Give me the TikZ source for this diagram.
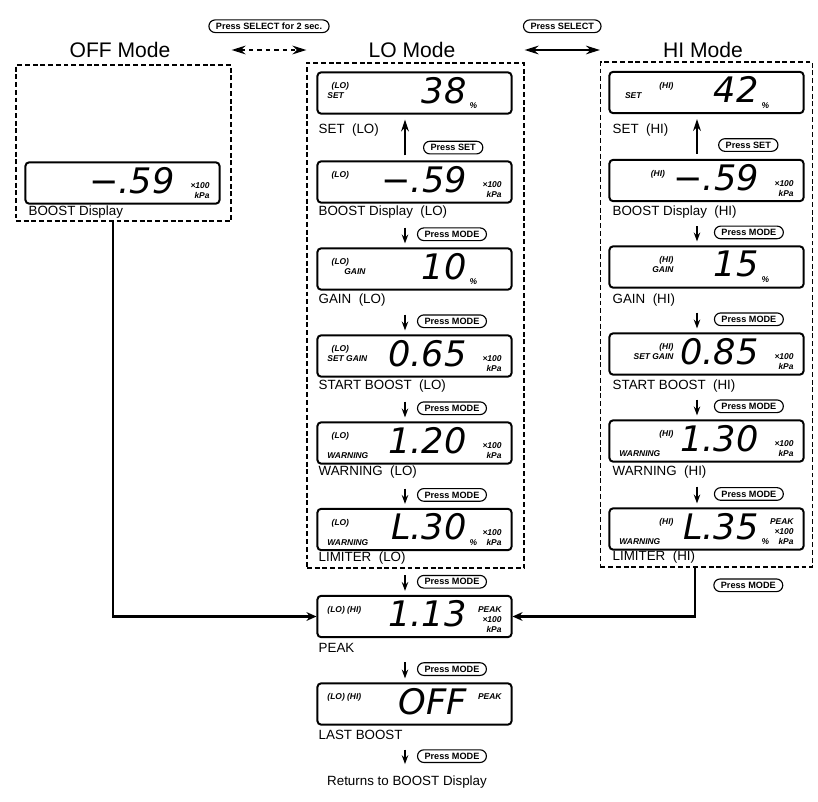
\documentclass[tikz,border=0pt]{standalone}
\usepackage{fontspec}
\setmainfont{Liberation Sans}
\newfontfamily\lcdfamily{DejaVu Sans}
\usetikzlibrary{arrows.meta, positioning, calc}
\newcommand{\tagsize}{\fontsize{6}{7}\selectfont\bfseries\itshape}
\newcommand{\pillsize}{\fontsize{6.5}{7}\selectfont\bfseries}
\newcommand{\lblsize}{\fontsize{9.5}{11}\selectfont}
\newcommand{\titlesize}{\fontsize{15}{17}\selectfont}
\newcommand{\digitsize}{\lcdfamily\itshape\fontsize{25}{25}\selectfont}
% display face: tags left, digits, units right
\newcommand{\lcdbody}[3]{\makebox[4.35cm]{%
	\parbox[c][0.65cm][t]{1.35cm}{\tagsize\raggedright #1}\hfill
	{\digitsize$\vcenter{\hbox{#2}}$}\hspace{2pt}%
	\parbox[c][0.65cm][t]{0.8cm}{\tagsize\raggedleft #3}}}
\tikzset{
	lcd/.style    ={rectangle, draw=black, line width=1.4pt, rounded corners=2.5pt, minimum width=4.85cm, minimum height=1.03cm, inner sep=0pt},
	modebox/.style={rectangle, draw=black, line width=0.9pt, dash pattern=on 3.5pt off 2pt},
	pill/.style   ={rectangle, draw=black, solid, line width=0.8pt, rounded corners=4.5pt, minimum height=9pt, inner xsep=5pt, inner ysep=0.5pt, font=\pillsize},
	lbl/.style    ={font=\lblsize, inner sep=1pt},
	title/.style  ={font=\titlesize, inner sep=1pt},
	modearr/.style={-{Stealth[length=2.2mm, width=1.6mm]}, line width=1pt, shorten <=0.6cm, shorten >=0.1cm},
	setarr/.style ={-{Stealth[length=3mm, width=2mm]}, line width=0.9pt, shorten <=0.125cm, shorten >=0.125cm},
	selarr/.style ={{Stealth[length=3.5mm, width=2.2mm]}-{Stealth[length=3.5mm, width=2.2mm]}, line width=0.8pt},
	feed/.style   ={-{Stealth[length=2.5mm, width=2.2mm]}, line width=2pt},
}
\begin{document}
\begin{tikzpicture}[x=0.025cm, y=-0.025cm]
	\useasboundingbox (0,0) rectangle (818,802);
	% mode titles and frames
	\node[title] (offt) at (120,50) {OFF Mode};
	\node[title] (lot) at (412,50) {LO Mode};
	\node[title] (hit) at (703,50) {HI Mode};
	\node[modebox, minimum width=5.375cm, minimum height=3.9cm] (offbox) at (123.5,143) {};
	\node[modebox, minimum width=5.425cm, minimum height=12.625cm] (lobox) at (415.5,315.5) {};
	\node[modebox, minimum width=5.3cm, minimum height=12.625cm] (hibox) at (706.5,314.5) {};
	\draw[selarr, dashed] (offbox.east |- offt.center) -- node[pill, above=12pt] (psel2) {Press SELECT for 2 sec.} (lobox.west |- lot.center);
	\draw[selarr] (lobox.east |- lot.center) -- node[pill, above=12pt] (psel) {Press SELECT} (hibox.west |- hit.center);
	% OFF mode
	\node[lcd] (off1) at (122.5,183) {\lcdbody{}{−.59}{\vfill ×100\\kPa}};
	\node[lbl, anchor=west] (off1l) at (27,212) {BOOST Display};
	% LO mode
	\node[lcd] (lo1) at (414.5,93) {\lcdbody{\hspace*{3pt}(LO)\\SET}{38}{\vfill\%\hspace*{\fill}}};
	\node[lcd] (lo2) at (414.5,182) {\lcdbody{\hspace*{3pt}(LO)}{−.59}{\vfill ×100\\kPa}};
	\node[lcd] (lo3) at (414.5,269) {\lcdbody{\hspace*{3pt}(LO)\\\hspace*{12pt}GAIN}{10}{\vfill\%\hspace*{\fill}}};
	\node[lcd] (lo4) at (414.5,356) {\lcdbody{\hspace*{3pt}(LO)\\SET GAIN}{0.65}{\vfill ×100\\kPa}};
	\node[lcd] (lo5) at (414.5,443) {\lcdbody{\hspace*{3pt}(LO)\vfill WARNING}{1.20}{\vfill ×100\\kPa}};
	\node[lcd] (lo6) at (414.5,529.5) {\lcdbody{\hspace*{3pt}(LO)\vfill WARNING}{L.30}{\vfill ×100\\\%\hfill kPa}};
	\node[lbl, anchor=west] (lo1l) at (317,130) {SET~~(LO)};
	\node[lbl, anchor=west] (lo2l) at (317,212) {BOOST Display~~(LO)};
	\node[lbl, anchor=west] (lo3l) at (317,300) {GAIN~~(LO)};
	\node[lbl, anchor=west] (lo4l) at (317,386) {START BOOST~~(LO)};
	\node[lbl, anchor=west] (lo5l) at (317,472) {WARNING~~(LO)};
	\node[lbl, anchor=west] (lo6l) at (317,558) {LIMITER~~(LO)};
	% HI mode
	\node[lcd] (hi1) at (706.5,92.5) {\lcdbody{\hspace*{\fill}(HI)\hspace*{6pt}\\\hspace*{4pt}SET}{42}{\vfill\%\hspace*{\fill}}};
	\node[lcd] (hi2) at (706.5,180.5) {\lcdbody{\hspace*{\fill}(HI)\hspace*{6pt}}{−.59}{\vfill ×100\\kPa}};
	\node[lcd] (hi3) at (706.5,267) {\lcdbody{\hspace*{\fill}(HI)\hspace*{8pt}\\\hspace*{\fill}GAIN}{15}{\vfill\%\hspace*{\fill}}};
	\node[lcd] (hi4) at (706.5,354) {\lcdbody{\hspace*{\fill}(HI)\\\hspace*{\fill}SET GAIN}{0.85}{\vfill ×100\\kPa}};
	\node[lcd] (hi5) at (706.5,441) {\lcdbody{\hspace*{\fill}(HI)\vfill WARNING}{1.30}{\vfill ×100\\kPa}};
	\node[lcd] (hi6) at (706.5,529) {\lcdbody{\hspace*{\fill}(HI)\vfill WARNING}{L.35}{\vfill PEAK\\×100\\\%\hfill kPa}};
	\node[lbl, anchor=west] (hi1l) at (611,130) {SET~~(HI)};
	\node[lbl, anchor=west] (hi2l) at (611,212) {BOOST Display~~(HI)};
	\node[lbl, anchor=west] (hi3l) at (611,300) {GAIN~~(HI)};
	\node[lbl, anchor=west] (hi4l) at (611,386) {START BOOST~~(HI)};
	\node[lbl, anchor=west] (hi5l) at (611,472) {WARNING~~(HI)};
	\node[lbl, anchor=west] (hi6l) at (611,557) {LIMITER~~(HI)};
	% common displays
	\node[lcd] (peak) at (414.5,616.5) {\lcdbody{(LO)~(HI)}{1.13}{\vfill PEAK\\×100\\kPa}};
	\node[lcd] (last) at (414.5,704) {\lcdbody{(LO)~(HI)}{OFF}{PEAK}};
	\node[lbl, anchor=west] (peakl) at (317,648) {PEAK};
	\node[lbl, anchor=west] (lastl) at (317,735) {LAST BOOST};
	\node[lbl] (ret) at (407,782) {Returns to BOOST Display};
	% key presses
	\draw[setarr] ($(lo2.north)+(-9.5,0)$) -- node[pill, right=12.8pt, pos=0.28] (plo1) {Press SET} ($(lo1.south)+(-9.5,0)$);
	\draw[setarr] ($(hi2.north)+(-9.5,0)$) -- node[pill, right=15pt, pos=0.31] (phi1) {Press SET} ($(hi1.south)+(-9.5,0)$);
	\foreach \a/\b in {lo2/lo3,lo3/lo4,lo4/lo5,lo5/lo6,lo6/peak,peak/last}
		\draw[modearr] ($(\a.south)+(-9.5,0)$) -- node[pill, right=8.5pt, pos=0.7] (p\a) {Press MODE} ($(\b.north)+(-9.5,0)$);
	\foreach \a/\b in {hi2/hi3,hi3/hi4,hi4/hi5,hi5/hi6}
		\draw[modearr] ($(\a.south)+(-9.5,0)$) -- node[pill, right=12pt, pos=0.7] (p\a) {Press MODE} ($(\b.north)+(-9.5,0)$);
	\draw[modearr, shorten >=0.25cm] ($(last.south)+(-9.5,0)$) -- node[pill, right=8.5pt, pos=0.63] (plast) {Press MODE} ($(ret.north)+(-2,0)$);
	% into PEAK
	\draw[feed] ($(offbox.south)+(-10.5,0)$) |- (peak.west);
	\draw[feed] ($(hibox.south)+(-11.5,0)$) |- node[pill, pos=0.18, right=13pt] (phi6) {Press MODE} (peak.east);
\end{tikzpicture}
\end{document}
